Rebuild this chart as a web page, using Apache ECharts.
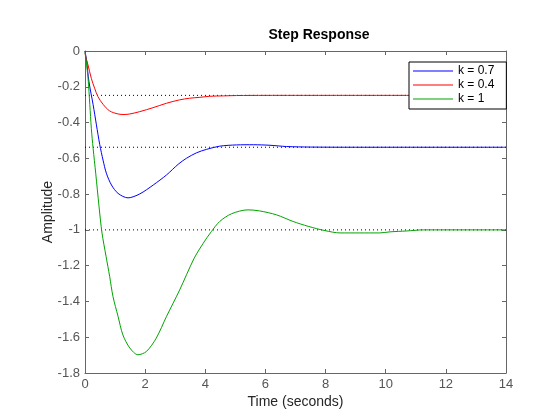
<!DOCTYPE html>
<html>
<head>
<meta charset="utf-8">
<script src="https://cdn.jsdelivr.net/npm/echarts@6/dist/echarts.min.js"></script>
<style>
  html, body { margin: 0; padding: 0; background: #fff; }
  #chart { width: 560px; height: 420px; }
</style>
</head>
<body>
<div id="chart"></div>
<script>
// values
var legendNames = ['k = 0.7', 'k = 0.4', 'k = 1'];

var blueT = [0, 0.02, 0.05, 0.13, 0.27, 0.38, 0.49, 0.6, 0.71, 0.88, 1.1, 1.43, 1.82, 2.27, 2.71, 3.1, 3.37, 3.71, 4.04, 4.48, 5.04, 5.6, 6.15, 6.7, 7.5, 9, 14];
var blueV = [0, -0.02, -0.05, -0.17, -0.30, -0.413, -0.523, -0.61, -0.683, -0.749, -0.796, -0.821, -0.799, -0.749, -0.693, -0.633, -0.6, -0.569, -0.55, -0.532, -0.525, -0.524, -0.527, -0.534, -0.537, -0.538, -0.538];

var redT = [0, 0.02, 0.1, 0.21, 0.32, 0.43, 0.6, 0.82, 1.1, 1.3, 1.49, 1.82, 2.26, 2.71, 3.15, 3.48, 3.82, 4.15, 4.6, 5.04, 6, 8, 14];
var redV = [-0.01, -0.03, -0.078, -0.153, -0.208, -0.255, -0.298, -0.335, -0.352, -0.355, -0.352, -0.339, -0.317, -0.292, -0.273, -0.264, -0.259, -0.253, -0.251, -0.249, -0.248, -0.248, -0.248];

var greenT = [0, 0.1, 0.16, 0.21, 0.27, 0.356, 0.467, 0.566, 0.7, 0.82, 0.93, 1.1, 1.26, 1.49, 1.76, 2.04, 2.37, 2.71, 3.15, 3.62, 3.93, 4.2, 4.48, 4.87, 5.42, 5.81, 6.37, 6.92, 7.42, 7.98, 8.48, 9.14, 9.8, 10.14, 10.7, 11.25, 12, 14];
var greenV = [0, -0.15, -0.30, -0.432, -0.544, -0.683, -0.87, -1.018, -1.148, -1.26, -1.372, -1.484, -1.587, -1.66, -1.698, -1.68, -1.605, -1.484, -1.335, -1.162, -1.075, -1.01, -0.953, -0.91, -0.888, -0.894, -0.916, -0.953, -0.98, -1.004, -1.017, -1.017, -1.017, -1.011, -1.006, -1.0, -1.0, -1.0];

var steadyV = [-0.248, -0.538, -1];
var xTicks = [0, 14, 2];
var yTicks = [-1.8, 0, 0.2];

function pairs(ts, vs) {
    var out = [];
    for (var i = 0; i < ts.length; i++) out.push([ts[i], vs[i]]);
    return out;
}

var font = 'Liberation Sans, Arial, sans-serif';
var axisCol = '#666';
var labelCol = '#555';

function makeX(pos, show) {
    return {
        type: 'value', position: pos, min: xTicks[0], max: xTicks[1], interval: xTicks[2],
        name: show ? 'Time (seconds)' : '', nameLocation: 'middle', nameGap: 22,
        nameMoveOverlap: false,
        nameTextStyle: { color: '#262626', fontSize: 14, fontFamily: font },
        axisLine: { show: true, onZero: false, lineStyle: { color: axisCol, width: 1 } },
        axisTick: { show: true, inside: true, length: 4, lineStyle: { color: axisCol } },
        axisLabel: { show: show, color: labelCol, fontSize: 13, fontFamily: font, margin: 5 },
        splitLine: { show: false }
    };
}
function makeY(pos, show) {
    return {
        type: 'value', position: pos, min: yTicks[0], max: yTicks[1], interval: yTicks[2],
        name: show ? 'Amplitude' : '', nameLocation: 'middle', nameGap: 30,
        nameMoveOverlap: false,
        nameTextStyle: { color: '#262626', fontSize: 14, fontFamily: font },
        axisLine: { show: true, onZero: false, lineStyle: { color: axisCol, width: 1 } },
        axisTick: { show: true, inside: true, length: 4, lineStyle: { color: axisCol } },
        axisLabel: { show: show, color: labelCol, fontSize: 13, fontFamily: font, margin: 5,
            formatter: function (v) { return String(Math.round(v * 10) / 10); } },
        splitLine: { show: false }
    };
}

var series = [];
steadyV.forEach(function (v) {
    series.push({
        type: 'line', data: [[xTicks[0], v], [xTicks[1], v]], symbol: 'none', silent: true,
        lineStyle: { color: '#000', width: 1, type: [1, 3] }, z: 1
    });
});
var curves = [[legendNames[0], '#0000ff', blueT, blueV],
              [legendNames[1], '#ff0000', redT, redV],
              [legendNames[2], '#00a300', greenT, greenV]];
curves.forEach(function (c) {
    series.push({
        name: c[0], type: 'line', data: pairs(c[2], c[3]), symbol: 'none', smooth: 0.3,
        itemStyle: { color: c[1] }, lineStyle: { color: c[1], width: 1 }, z: 3
    });
});

var chart = echarts.init(document.getElementById('chart'));
chart.setOption({
    animation: false,
    backgroundColor: '#fff',
    title: {
        text: 'Step Response', left: 314, top: 23, textAlign: 'center',
        textStyle: { fontSize: 14, fontWeight: 'bold', color: '#000', fontFamily: font }
    },
    grid: { left: 85, right: 54, top: 51, bottom: 47 },
    legend: {
        data: legendNames, orient: 'vertical', left: 409, top: 62,
        icon: 'rect', itemWidth: 40, itemHeight: 1, itemGap: 0,
        padding: [2, 12, 3, 4],
        backgroundColor: '#fff', borderColor: '#000', borderWidth: 1, borderRadius: 0,
        textStyle: { fontSize: 12, color: '#000', fontFamily: font, lineHeight: 14 }
    },
    xAxis: [makeX('bottom', true), makeX('top', false)],
    yAxis: [makeY('left', true), makeY('right', false)],
    series: series
});
</script>
</body>
</html>
